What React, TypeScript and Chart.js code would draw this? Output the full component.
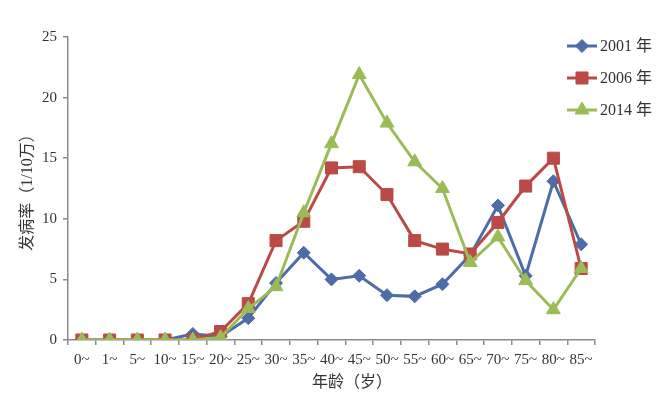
import React, { useEffect, useRef } from 'react';
import { Chart, registerables } from 'chart.js';
import { drawPoint } from 'chart.js/helpers';

Chart.register(...registerables);

const categories = ['0~', '1~', '5~', '10~', '15~', '20~', '25~', '30~', '35~', '40~', '45~', '50~', '55~', '60~', '65~', '70~', '75~', '80~', '85~'];
const series2001 = [0, 0, 0, 0, 0.5, 0.3, 1.8, 4.7, 7.2, 5.0, 5.3, 3.7, 3.6, 4.6, 7.0, 11.1, 5.3, 13.1, 7.9];
const series2006 = [0, 0, 0, 0, 0, 0.7, 3.0, 8.2, 9.8, 14.2, 14.3, 12.0, 8.2, 7.5, 7.1, 9.7, 12.7, 15.0, 5.9];
const series2014 = [0, 0, 0, 0, 0, 0.2, 2.6, 4.4, 10.5, 16.2, 21.9, 17.9, 14.7, 12.5, 6.4, 8.5, 4.9, 2.5, 5.9];
const legendLabels = ['2001 年', '2006 年', '2014 年'];
const yTitle = '发病率（1/10万）';
const xTitle = '年龄（岁）';

const BLUE = '#4d6ca8';
const RED = '#bb4a47';
const GREEN = '#9bbb59';
const AXIS = '#8a8a8a';
const TEXT = '#333333';
const FONT_FAMILY = '"Liberation Serif", "Times New Roman", "Noto Sans CJK SC", serif';

const styles = [
  { color: BLUE, pointStyle: 'rectRot', radius: 6.5 },
  { color: RED, pointStyle: 'rect', radius: 8.5 },
  { color: GREEN, pointStyle: 'triangle', radius: 8 },
];

const overlayPlugin = {
  id: 'overlay',
  afterDraw(chart: any) {
    const ctx = chart.ctx;
    ctx.save();
    // x axis title
    ctx.fillStyle = TEXT;
    ctx.font = `16px ${FONT_FAMILY}`;
    ctx.textAlign = 'center';
    ctx.textBaseline = 'middle';
    ctx.fillText(xTitle, 352, 383);
    // legend
    const rows = [46, 78, 110];
    legendLabels.forEach((label, i) => {
      const s = styles[i];
      const y = rows[i];
      ctx.strokeStyle = s.color;
      ctx.lineWidth = 3;
      ctx.beginPath();
      ctx.moveTo(567, y);
      ctx.lineTo(597, y);
      ctx.stroke();
      ctx.fillStyle = s.color;
      ctx.strokeStyle = s.color;
      ctx.lineWidth = 1;
      drawPoint(ctx, { pointStyle: s.pointStyle, radius: s.radius, borderWidth: 1, rotation: 0 }, 582, y);
      ctx.fillStyle = TEXT;
      ctx.font = `16px ${FONT_FAMILY}`;
      ctx.textAlign = 'left';
      ctx.textBaseline = 'middle';
      ctx.fillText(label, 600, y + 1);
    });
    ctx.restore();
  },
};

function mkDataset(label: string, data: number[], i: number, order: number) {
  const s = styles[i];
  return {
    label,
    data,
    borderColor: s.color,
    backgroundColor: s.color,
    pointBackgroundColor: s.color,
    pointBorderColor: s.color,
    pointStyle: s.pointStyle,
    pointRadius: s.radius,
    pointBorderWidth: 1,
    borderWidth: 3,
    tension: 0,
    order,
  };
}

export default function App() {
  const ref = useRef<HTMLCanvasElement>(null);
  useEffect(() => {
    document.body.style.margin = '0';
    const chart = new Chart(ref.current as HTMLCanvasElement, {
      type: 'line',
      data: {
        labels: categories,
        datasets: [
          mkDataset(legendLabels[0], series2001, 0, 2),
          mkDataset(legendLabels[1], series2006, 1, 1),
          mkDataset(legendLabels[2], series2014, 2, 0),
        ],
      },
      options: {
        responsive: false,
        animation: false,
        layout: { padding: { left: 0, right: 72, top: 37, bottom: 0 } },
        plugins: { legend: { display: false }, tooltip: { enabled: false } },
        scales: {
          x: {
            type: 'category',
            offset: true,
            grid: { display: true, drawOnChartArea: false, offset: true, tickLength: 5, color: AXIS, lineWidth: 1.5 },
            border: { display: true, color: AXIS, width: 1.5 },
            ticks: { autoSkip: false, maxRotation: 0, minRotation: 0, padding: 6, color: TEXT, font: { family: FONT_FAMILY, size: 15 } },
            afterFit: (s: any) => { s.height = 63; },
          },
          y: {
            min: 0,
            max: 25,
            ticks: { stepSize: 5, padding: 6, color: TEXT, font: { family: FONT_FAMILY, size: 15 } },
            grid: { display: true, drawOnChartArea: false, tickLength: 5, color: AXIS, lineWidth: 1.5 },
            border: { display: true, color: AXIS, width: 1.5 },
            title: { display: true, text: yTitle, color: TEXT, font: { family: FONT_FAMILY, size: 16 }, padding: { top: 18, bottom: 0 } },
            afterFit: (s: any) => { s.width = 68; },
          },
        },
      },
      plugins: [overlayPlugin],
    } as any);
    return () => chart.destroy();
  }, []);
  return <canvas ref={ref} width={667} height={403} style={{ display: 'block' }} />;
}
